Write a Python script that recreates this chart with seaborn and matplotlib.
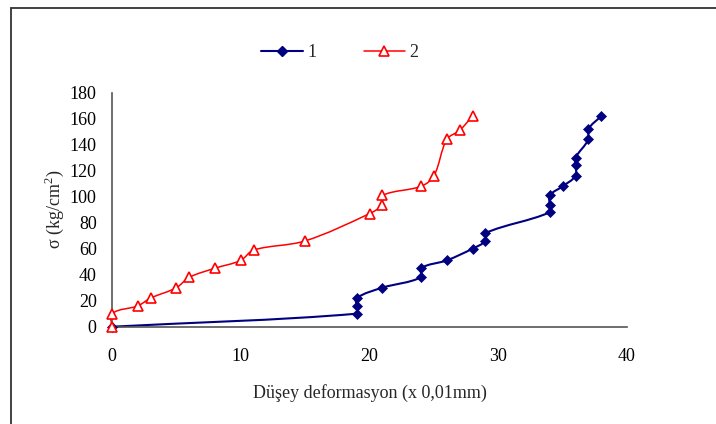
"""
Düşey deformasyon - gerilme eğrisi (two samples)
"""

import math

import matplotlib
matplotlib.use("Agg")
import matplotlib.pyplot as plt
from matplotlib.lines import Line2D
from matplotlib.path import Path
from matplotlib.patches import PathPatch
import seaborn as sns

# ============================================================
# DATA
# ============================================================

# series 1 (navy diamonds)
x1 = [0, 19, 19, 19, 21, 24, 24, 26, 28, 29, 29, 34, 34, 34, 35, 36, 36, 36, 37, 37, 38]
y1 = [0, 10, 16, 22, 30, 38, 45, 51, 60, 66, 72, 88, 94, 101, 108, 116, 124, 130, 144, 152, 162]

# series 2 (red hollow triangles)
x2 = [0, 0, 2, 3, 5, 6, 8, 10, 11, 15, 20, 21, 21, 24, 25, 26, 27, 28]
y2 = [0, 10, 16, 22, 30, 38, 45, 51, 59, 66, 87, 94, 101, 108, 116, 144, 151, 162]

series_names = ["1", "2"]
x_ticks = [0, 10, 20, 30, 40]
y_ticks = list(range(0, 181, 20))

# ============================================================
# STYLE
# ============================================================

sns.set_theme(style="white")
plt.rcParams["font.family"] = ["Liberation Serif", "DejaVu Serif"]
plt.rcParams["mathtext.fontset"] = "custom"
plt.rcParams["mathtext.rm"] = "Liberation Serif"

NAVY = "#000080"
RED = "#FF0000"
SPINE = "#555555"

# pixels per data unit, used so the smoothing works in screen proportions
SX = 515 / 40
SY = 234 / 180


def smooth_path(xs, ys):
    """Smoothed line (like Excel's): cubic Bezier through every point."""
    pts = [(x * SX, y * SY) for x, y in zip(xs, ys)]
    n = len(pts)

    def tangent(i):
        a = pts[max(i - 1, 0)]
        b = pts[min(i + 1, n - 1)]
        dx, dy = b[0] - a[0], b[1] - a[1]
        d = math.hypot(dx, dy) or 1.0
        return dx / d, dy / d

    verts = [pts[0]]
    codes = [Path.MOVETO]
    for i in range(n - 1):
        p1, p2 = pts[i], pts[i + 1]
        seg = math.hypot(p2[0] - p1[0], p2[1] - p1[1]) / 3
        t1, t2 = tangent(i), tangent(i + 1)
        c1 = (p1[0] + t1[0] * seg, p1[1] + t1[1] * seg)
        c2 = (p2[0] - t2[0] * seg, p2[1] - t2[1] * seg)
        verts += [c1, c2, p2]
        codes += [Path.CURVE4] * 3
    verts = [(vx / SX, vy / SY) for vx, vy in verts]
    return Path(verts, codes)


fig = plt.figure(figsize=(7.16, 4.24), dpi=100)
ax = fig.add_axes([112 / 716, 1 - 326.7 / 424, 515 / 716, 234 / 424])

# smoothed connecting lines
ax.add_patch(PathPatch(smooth_path(x1, y1), facecolor="none", edgecolor=NAVY,
                       linewidth=1.5, clip_on=False, zorder=2))
ax.add_patch(PathPatch(smooth_path(x2, y2), facecolor="none", edgecolor=RED,
                       linewidth=1.1, clip_on=False, zorder=2))

# markers
sns.lineplot(x=x1, y=y1, sort=False, estimator=None, ax=ax, color=NAVY,
             linestyle="", marker="D", markersize=5.5,
             markerfacecolor=NAVY, markeredgecolor=NAVY, markeredgewidth=0.5)
sns.lineplot(x=x2, y=y2, sort=False, estimator=None, ax=ax, color=RED,
             linestyle="", marker="^", markersize=7,
             markerfacecolor="white", markeredgecolor=RED, markeredgewidth=1.2)

ax.set_xlim(0, 40)
ax.set_ylim(0, 180)
ax.set_xticks(x_ticks)
ax.set_yticks(y_ticks)
for a in ax.lines:
    a.set_clip_on(False)
    a.set_zorder(3)

sns.despine(ax=ax)
for side in ["left", "bottom"]:
    ax.spines[side].set_color(SPINE)
    ax.spines[side].set_linewidth(1.2)
ax.tick_params(axis="both", which="major", direction="out", length=5,
               width=1.0, color="#222222", labelsize=13, labelcolor="black")
ax.tick_params(axis="x", pad=10)
ax.tick_params(axis="y", pad=6)

ax.set_xlabel("Düşey deformasyon (x 0,01mm)", fontsize=13)
ax.set_ylabel("σ (kg/cm$^2$)", fontsize=13)
ax.xaxis.set_label_coords(0.5, -0.245)
ax.yaxis.set_label_coords(-0.09, 0.5)

# legend (horizontal, no frame)
handles = [
    Line2D([], [], color=NAVY, linewidth=1.5, marker="D", markersize=5.5,
           markerfacecolor=NAVY, markeredgecolor=NAVY),
    Line2D([], [], color=RED, linewidth=1.1, marker="^", markersize=7,
           markerfacecolor="white", markeredgecolor=RED, markeredgewidth=1.2),
]
fig.legend(handles, series_names, loc="center", bbox_to_anchor=(340 / 716, 1 - 52.7 / 424),
           ncol=2, frameon=False, fontsize=13, handlelength=2.3,
           handletextpad=0.25, columnspacing=2.6)

# chart-area border (only left and top edges are visible)
fig.add_artist(Line2D([11 / 716, 11 / 716], [0, 1 - 8 / 424], color="#333333", linewidth=1.3))
fig.add_artist(Line2D([11 / 716, 1], [1 - 8 / 424, 1 - 8 / 424], color="#333333", linewidth=1.3))

fig.savefig("out.png", dpi=100)
